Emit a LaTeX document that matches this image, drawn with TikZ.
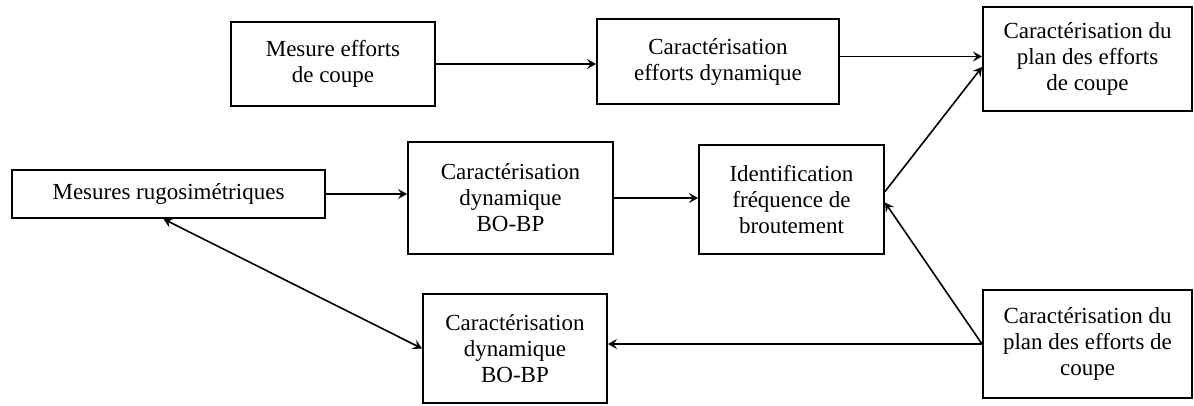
\documentclass[tikz,border=0pt]{standalone}
\usepackage{fontspec}
\setmainfont{Liberation Serif}
\usetikzlibrary{arrows.meta}

\begin{document}
\begin{tikzpicture}[x=1pt, y=-1pt, line width=1.6pt,
  >={Stealth[length=9pt, width=10pt, inset=3.5pt]},
  every node/.style={rectangle, draw, line width=2pt, align=center, inner sep=2pt,
    font=\fontsize{23}{26}\selectfont}]
\useasboundingbox (0,0) rectangle (1194,405);

\node[minimum width=204, minimum height=84] (mes) at (333,64) {Mesure efforts\\de coupe};
\node[minimum width=242, minimum height=85] (dyn) at (718,61.5) {Caractérisation\\efforts dynamique};
\node[minimum width=209, minimum height=104] (plan) at (1087.5,59) {Caractérisation du\\plan des efforts\\de coupe};

\node[minimum width=313, minimum height=48] (rugo) at (168.5,194) {Mesures rugosimétriques};
\node[minimum width=205, minimum height=112] (bo) at (510.5,198) {Caractérisation\\dynamique\\BO-BP};
\node[minimum width=185, minimum height=109] (freq) at (791.5,199.5) {Identification\\fréquence de\\broutement};

\node[minimum width=184, minimum height=109] (bob) at (515,348.5) {Caractérisation\\dynamique\\BO-BP};
\node[minimum width=209, minimum height=108] (plb) at (1087.5,344) {Caractérisation du\\plan des efforts de\\coupe};

\draw[->] (mes) -- (mes -| dyn.west);
\draw[->] ([yshift=5pt]dyn.east) -- ([yshift=5pt]dyn.east -| plan.west);
\draw[->] (rugo) -- (rugo -| bo.west);
\draw[->] (bo) -- (bo -| freq.west);
\draw[->] ([yshift=8pt]freq.east) -- ([yshift=-8pt]plan.west);
\draw[->] (plb.west) -- ([yshift=-3pt]freq.east);
\draw[->] (plb.west) -- (plb.west -| bob.east);
\draw[<->] ([xshift=-5pt]rugo.south) -- (bob.west);
\end{tikzpicture}
\end{document}
